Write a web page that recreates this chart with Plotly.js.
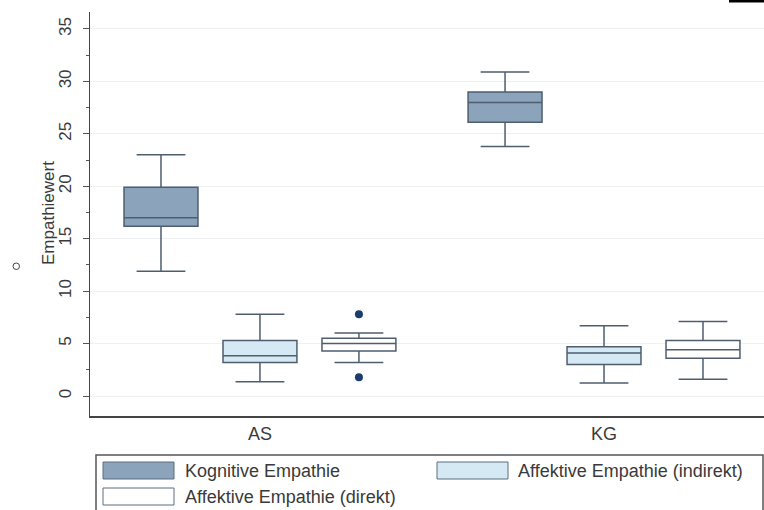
<!DOCTYPE html>
<html>
<head>
<meta charset="utf-8">
<script src="https://cdn.plot.ly/plotly-3.0.1.min.js"></script>
<style>html,body{margin:0;padding:0;background:#fff;}#chart{width:764px;height:510px;}</style>
</head>
<body>
<div id="chart"></div>
<script>
// ---- data ----
const groups = ['AS', 'KG'];
const seriesNames = ['Kognitive Empathie', 'Affektive Empathie (indirekt)', 'Affektive Empathie (direkt)'];
const yTitle = 'Empathiewert';

const kogLower  = [11.9, 23.8];
const kogQ1     = [16.2, 26.1];
const kogMedian = [17.0, 28.0];
const kogQ3     = [19.9, 29.0];
const kogUpper  = [23.0, 30.9];

const indLower  = [1.35, 1.25];
const indQ1     = [3.2, 3.0];
const indMedian = [3.85, 4.1];
const indQ3     = [5.3, 4.7];
const indUpper  = [7.8, 6.7];

const dirLower  = [3.2, 1.6];
const dirQ1     = [4.3, 3.6];
const dirMedian = [5.0, 4.4];
const dirQ3     = [5.5, 5.3];
const dirUpper  = [6.0, 7.1];
const dirOutliers = [[7.8, 1.8], []];

const yTicks = [0, 5, 10, 15, 20, 25, 30, 35];

// ---- styles ----
const fills = ['#8ca3bc', '#d5e9f5', '#ffffff'];
const lineCol = '#4e5e6f';
const FONT = '"Liberation Sans", Arial, sans-serif';
const TXT = '#3a3a3a';

// plot-area geometry in pixels
const L = 90, R = 0, T = 12, B = 94, W = 764 - L - R, H = 510 - T - B;
const px = x => (x - L) / W;
const py = y => (510 - B - y) / H;

function boxTrace(name, q1, med, q3, lo, hi, fill, extra) {
  return Object.assign({
    type: 'box', name: name, x: groups,
    q1: q1, median: med, q3: q3, lowerfence: lo, upperfence: hi,
    fillcolor: fill, line: {color: lineCol, width: 1.5},
    whiskerwidth: 0.66, boxpoints: false, showlegend: false,
    hoverinfo: 'skip'
  }, extra || {});
}

const data = [
  boxTrace(seriesNames[0], kogQ1, kogMedian, kogQ3, kogLower, kogUpper, fills[0]),
  boxTrace(seriesNames[1], indQ1, indMedian, indQ3, indLower, indUpper, fills[1]),
  boxTrace(seriesNames[2], dirQ1, dirMedian, dirQ3, dirLower, dirUpper, fills[2], {
    y: dirOutliers, boxpoints: 'outliers', jitter: 0, pointpos: 0,
    marker: {color: '#1b3d6b', size: 8, line: {width: 0}}
  })
];

// manual legend (wide swatches like the reference)
const legendCells = [
  {col: 0, row: 0, i: 0}, {col: 1, row: 0, i: 1}, {col: 0, row: 1, i: 2}
];
const colSw = [103, 437], colTx = [183, 516], rowY = [462, 488], swW = 71, swH = 17;

const shapes = [
  {type: 'rect', xref: 'paper', yref: 'paper', x0: px(96), x1: px(763), y0: py(455), y1: py(520),
   line: {color: '#555', width: 1.5}, fillcolor: 'rgba(0,0,0,0)'},
  {type: 'rect', xref: 'paper', yref: 'paper', x0: px(729), x1: px(764), y0: py(2.5), y1: py(0),
   line: {width: 0}, fillcolor: '#000'},
  {type: 'circle', xref: 'paper', yref: 'paper', x0: px(13), x1: px(19.5), y0: py(269.5), y1: py(263),
   line: {color: '#444', width: 1}, fillcolor: 'rgba(0,0,0,0)'}
];
const annotations = [
  {xref: 'paper', yref: 'paper', x: px(48), y: py(213), xanchor: 'center', yanchor: 'middle',
   textangle: -90, showarrow: false, text: yTitle, font: {family: FONT, size: 17, color: TXT}}
];
legendCells.forEach(c => {
  shapes.push({type: 'rect', xref: 'paper', yref: 'paper',
    x0: px(colSw[c.col]), x1: px(colSw[c.col] + swW),
    y0: py(rowY[c.row]), y1: py(rowY[c.row] + swH),
    line: {color: '#5d6d7e', width: 1}, fillcolor: fills[c.i]});
  annotations.push({xref: 'paper', yref: 'paper', x: px(colTx[c.col]), y: py(rowY[c.row] + swH / 2),
    xanchor: 'left', yanchor: 'middle', showarrow: false, text: seriesNames[c.i],
    font: {family: FONT, size: 18, color: TXT}});
});

const layout = {
  width: 764, height: 510,
  margin: {l: L, r: R, t: T, b: B, pad: 0},
  paper_bgcolor: '#fff', plot_bgcolor: '#fff',
  font: {family: FONT, color: TXT},
  boxmode: 'group', boxgap: 0.137, boxgroupgap: 0.253,
  showlegend: false,
  xaxis: {
    type: 'category', range: [-0.494, 1.465],
    showline: true, linecolor: '#444', linewidth: 1.5,
    ticks: '', showgrid: false, zeroline: false,
    tickfont: {family: FONT, size: 18, color: TXT},
    ticklabelstandoff: 1, fixedrange: true
  },
  yaxis: {
    range: [-1.907, 36.62], tickvals: yTicks, ticktext: yTicks.map(String),
    tickangle: -90, ticks: 'outside', ticklen: 6, tickwidth: 1, tickcolor: '#555',
    showline: true, linecolor: '#444', linewidth: 1.5,
    showgrid: true, gridcolor: '#eef0f3', gridwidth: 1, zeroline: false,
    tickfont: {family: FONT, size: 17, color: TXT},
    ticklabelstandoff: 5,
    minor: {dtick: 2.5, tick0: 0, ticks: 'outside', ticklen: 3, tickcolor: '#555', showgrid: false},
    automargin: false, fixedrange: true
  },
  shapes: shapes,
  annotations: annotations
};

Plotly.newPlot('chart', data, layout, {displayModeBar: false, staticPlot: true});
</script>
</body>
</html>
